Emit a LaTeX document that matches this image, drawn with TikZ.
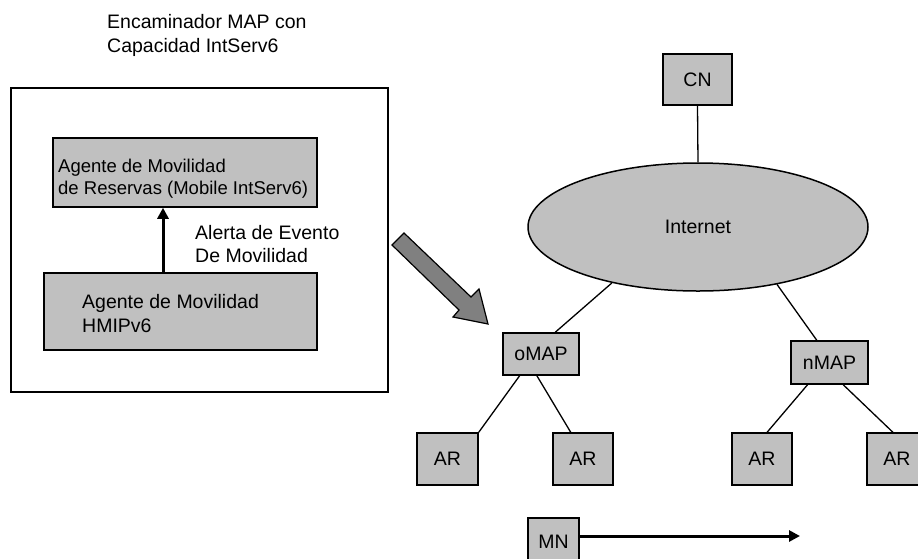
\documentclass[tikz,border=0pt]{standalone}
\usepackage{fontspec}
\setmainfont{Liberation Sans}
\usetikzlibrary{arrows.meta,calc,shapes.geometric}
\definecolor{boxgray}{HTML}{C0C0C0}
\definecolor{arrowgray}{HTML}{808080}
\begin{document}
\begin{tikzpicture}[x=1pt,y=-1pt,
  gbox/.style={draw=black, line width=1.5pt, fill=boxgray, inner sep=0pt, font=\fontsize{19.5}{24}\selectfont},
  txt/.style={anchor=base west, inner sep=0pt, font=\fontsize{19.5}{24}\selectfont},
  smalltxt/.style={anchor=base west, inner sep=0pt, font=\fontsize{18.5}{22}\selectfont},
  link/.style={line width=1.3pt},
  thickarrow/.style={-{Triangle[length=11pt,width=11pt]}, line width=3pt}
]
\useasboundingbox (0,0) rectangle (918,558);
\clip (0,0) rectangle (918,558);

% title
\node[txt] (title1) at (107,28) {Encaminador MAP con};
\node[txt] (title2) at (107,52) {Capacidad IntServ6};

% router box
\node[draw=black, line width=1.5pt, minimum width=377pt, minimum height=304pt, inner sep=0pt] (router) at (199.5,240) {};
\node[gbox, minimum width=264pt, minimum height=69pt] (rsv) at (185,172.5) {};
\node[smalltxt] (rsv1) at (58,172) {Agente de Movilidad};
\node[smalltxt] (rsv2) at (58,194) {de Reservas (Mobile IntServ6)};
\node[gbox, minimum width=273pt, minimum height=77pt] (hmip) at (180.5,311.5) {};
\node[txt] (hmip1) at (82,308) {Agente de Movilidad};
\node[txt] (hmip2) at (82,332) {HMIPv6};
\coordinate (evx) at (163,0);
\draw[thickarrow] (hmip.north -| evx) -- (rsv.south -| evx);
\node[txt] (alert1) at (195,239) {Alerta de Evento};
\node[txt] (alert2) at (195,262) {De Movilidad};

% big arrow
\draw[fill=arrowgray, line width=1.2pt, line join=miter]
  (392,245) -- (404,233) -- (471,297) -- (479,289) -- (488,324) -- (453,317) -- (459,310) -- cycle;

% network
\node[gbox, minimum width=69pt, minimum height=51pt] (cn) at (697.5,79.5) {CN};
\node[gbox, ellipse, minimum width=340pt, minimum height=128pt] (inet) at (698,227) {Internet};
\node[gbox, minimum width=76pt, minimum height=42pt] (omap) at (541,354) {oMAP};
\node[gbox, minimum width=77pt, minimum height=43pt] (nmap) at (829.5,362.5) {nMAP};
\node[gbox, minimum width=61pt, minimum height=52pt] (ar1) at (447.5,459) {AR};
\node[gbox, minimum width=60pt, minimum height=52pt] (ar2) at (583,459) {AR};
\node[gbox, minimum width=60pt, minimum height=52pt] (ar3) at (762,459) {AR};
\node[gbox, minimum width=60pt, minimum height=52pt] (ar4) at (897,459) {AR};
\node[gbox, minimum width=51pt, minimum height=48pt] (mn) at (553.5,542) {MN};

\draw[link] (cn.south) -- (inet.north);
\draw[link] (inet.213) -- ($(omap.north west)!0.684!(omap.north east)$);
\draw[link] (inet.324) -- ($(nmap.north west)!0.338!(nmap.north east)$);
\draw[link] ($(omap.south west)!0.224!(omap.south east)$) -- (ar1.north east);
\draw[link] ($(omap.south west)!0.447!(omap.south east)$) -- ($(ar2.north west)!0.3!(ar2.north east)$);
\draw[link] ($(nmap.south west)!0.22!(nmap.south east)$) -- ($(ar3.north west)!0.583!(ar3.north east)$);
\draw[link] ($(nmap.south west)!0.675!(nmap.south east)$) -- ($(ar4.north west)!0.433!(ar4.north east)$);

\coordinate (mnend) at (800,536);
\draw[thickarrow] (mn.east |- mnend) -- (mnend);
\end{tikzpicture}
\end{document}
